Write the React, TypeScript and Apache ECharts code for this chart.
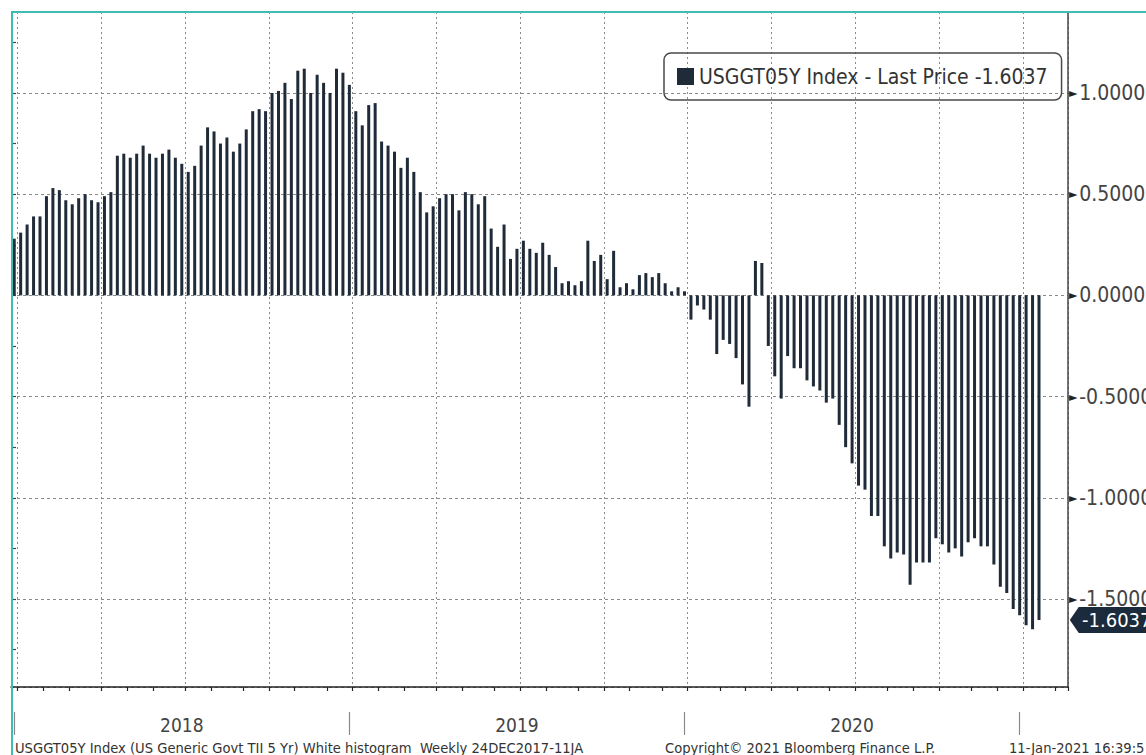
import React, { useEffect, useRef } from "react";
import * as echarts from "echarts";

// ---- data ----
const START_YEAR = 2017;
const START_MONTH = 11; // December (0-based)
const START_DAY = 29; // first weekly bar: Friday 29 Dec 2017
const WEEK_COUNT = 164; // axis runs a few weeks past the last bar

const CATEGORIES: string[] = Array.from({ length: WEEK_COUNT }, (_, i) =>
  new Date(Date.UTC(START_YEAR, START_MONTH, START_DAY + 7 * i)).toISOString().slice(0, 10)
);

const VALUES_2018: number[] = [
  0.28, 0.31, 0.35, 0.39, 0.39, 0.49, 0.53, 0.52, 0.47, 0.45, 0.48, 0.5, 0.47, 0.46, 0.49, 0.51,
  0.69, 0.7, 0.68, 0.7, 0.74, 0.7, 0.68, 0.7, 0.72, 0.68, 0.65, 0.61, 0.64, 0.74, 0.83, 0.81,
  0.75, 0.78, 0.71, 0.75, 0.82, 0.91, 0.92, 0.91, 1.0, 1.01, 1.05, 0.97, 1.11, 1.12, 1.0, 1.09,
  1.05, 1.0, 1.12, 1.1, 1.04,
];
const VALUES_2019: number[] = [
  0.91, 0.84, 0.94, 0.95, 0.76, 0.74, 0.71, 0.63, 0.68, 0.61, 0.51, 0.41, 0.44, 0.48, 0.5, 0.5,
  0.42, 0.51, 0.5, 0.45, 0.49, 0.33, 0.24, 0.35, 0.18, 0.23, 0.27, 0.23, 0.21, 0.26, 0.2, 0.14,
  0.06, 0.07, 0.05, 0.07, 0.27, 0.17, 0.2, 0.08, 0.22, 0.04, 0.06, 0.03, 0.1, 0.11, 0.09, 0.11,
  0.06, 0.02, 0.04, 0.02,
];
const VALUES_2020: number[] = [
  -0.12, -0.05, -0.07, -0.12, -0.29, -0.22, -0.24, -0.31, -0.44, -0.55, 0.17, 0.16, -0.25, -0.4,
  -0.51, -0.3, -0.36, -0.36, -0.42, -0.45, -0.47, -0.53, -0.51, -0.64, -0.75, -0.83, -0.94, -0.96,
  -1.09, -1.09, -1.24, -1.3, -1.27, -1.28, -1.43, -1.32, -1.32, -1.32, -1.2, -1.23, -1.27, -1.25,
  -1.29, -1.22, -1.2, -1.24, -1.24, -1.33, -1.44, -1.47, -1.55, -1.58, -1.63, -1.65,
];
const LAST_PRICE = -1.6037;
const VALUES: number[] = [...VALUES_2018, ...VALUES_2019, ...VALUES_2020, LAST_PRICE];

const Y_MIN = -1.935;
const Y_MAX = 1.4;
const MINOR_MIN = -1.75;
const MINOR_MAX = 1.25;

const SERIES_NAME = `USGGT05Y Index - Last Price ${LAST_PRICE.toFixed(4)}`;
const FOOTER_LEFT = "USGGT05Y Index (US Generic Govt TII 5 Yr) White histogram  Weekly 24DEC2017-11JA";
const FOOTER_MID = "Copyright\u00A9 2021 Bloomberg Finance L.P.";
const FOOTER_RIGHT = "11-Jan-2021 16:39:5";

// ---- styling ----
const W = 1146;
const H = 755;
const GRID_LEFT = 11;
const GRID_RIGHT = 78;
const GRID_TOP = 12;
const GRID_BOTTOM = 68;
const FONT = '"DejaVu Sans Condensed", "DejaVu Sans", sans-serif';
const BAR_COLOR = "#1f2b38";
const GRID_COLOR = "#8a8a8a";
const TEAL = "#3dbdb4";

const parts = (v: string) => {
  const [y, m, d] = v.split("-").map(Number);
  return { y, m, d };
};

export default function App() {
  const ref = useRef<HTMLDivElement>(null);

  useEffect(() => {
    if (!ref.current) return;
    const chart = echarts.init(ref.current, undefined, { renderer: "svg" });
    const plotH = H - GRID_TOP - GRID_BOTTOM;
    const k = plotH / (Y_MAX - Y_MIN);
    const minorTop = GRID_TOP + (Y_MAX - MINOR_MAX) * k;
    const minorBottom = GRID_BOTTOM + (MINOR_MIN - Y_MIN) * k;

    chart.setOption({
      animation: false,
      backgroundColor: "#fff",
      textStyle: { fontFamily: FONT },
      legend: {
        data: [SERIES_NAME],
        left: 664,
        top: 53,
        icon: "rect",
        itemWidth: 17,
        itemHeight: 17,
        selectedMode: false,
        backgroundColor: "transparent",
        borderColor: "#4a4a4a",
        borderWidth: 1.5,
        borderRadius: 7,
        padding: [13, 14, 13, 13],
        textStyle: { fontSize: 21, color: "#333", fontFamily: FONT },
      },
      grid: [
        {
          left: GRID_LEFT,
          right: GRID_RIGHT,
          top: GRID_TOP,
          bottom: GRID_BOTTOM,
          containLabel: false,
          outerBoundsMode: "none",
        },
        {
          left: GRID_LEFT,
          right: GRID_RIGHT,
          top: minorTop,
          bottom: minorBottom,
          containLabel: false,
          outerBoundsMode: "none",
        },
      ],
      xAxis: [
        {
          type: "category",
          data: CATEGORIES,
          boundaryGap: true,
          axisLine: { onZero: false, lineStyle: { color: "#222", width: 1.5 } },
          axisTick: {
            show: true,
            interval: (_i: number, v: string) => parts(v).d <= 7,
            length: 4,
            lineStyle: { color: "#222", width: 1.2 },
          },
          splitLine: {
            show: true,
            interval: (_i: number, v: string) => {
              const p = parts(v);
              return p.d <= 7 && (p.m - 1) % 3 === 0;
            },
            lineStyle: { color: GRID_COLOR, type: [2, 3], width: 1 },
          },
          axisLabel: {
            interval: (_i: number, v: string) => {
              const p = parts(v);
              return (p.m === 6 && p.d >= 26) || (p.m === 7 && p.d <= 2);
            },
            formatter: (v: string) => v.slice(0, 4),
            margin: 28,
            fontSize: 19,
            color: "#444",
            fontFamily: FONT,
          },
        },
        {
          type: "category",
          data: CATEGORIES,
          boundaryGap: true,
          position: "bottom",
          offset: 25,
          axisLine: { show: false, onZero: false },
          axisLabel: { show: false },
          splitLine: { show: false },
          axisTick: {
            show: true,
            alignWithLabel: true,
            interval: (_i: number, v: string) => {
              const p = parts(v);
              return p.m === 12 && p.d >= 25;
            },
            length: 23,
            lineStyle: { color: "#8a8a8a", width: 1.2 },
          },
        },
        { gridIndex: 1, type: "value", show: false, min: 0, max: 1 },
      ],
      yAxis: [
        {
          type: "value",
          position: "right",
          min: Y_MIN,
          max: Y_MAX,
          splitNumber: 6,
          axisLine: { show: true, lineStyle: { color: "#444", width: 1.5 } },
          axisTick: { show: false },
          axisLabel: { show: false },
          splitLine: { show: true, lineStyle: { color: GRID_COLOR, type: [3, 3], width: 1 } },
        },
        {
          gridIndex: 1,
          type: "value",
          position: "right",
          min: MINOR_MIN,
          max: MINOR_MAX,
          interval: 0.25,
          axisLine: { show: false },
          splitLine: { show: false },
          axisTick: { show: true, length: 5, lineStyle: { color: "#444", width: 1.2 } },
          axisLabel: {
            show: true,
            margin: 1,
            fontSize: 21,
            color: "#444",
            fontFamily: FONT,
            formatter: (v: number) =>
              Math.abs(v * 2 - Math.round(v * 2)) < 1e-6
                ? `{a|\u25BA}{b|${(Math.abs(v) < 1e-9 ? 0 : v).toFixed(4)}}`
                : "",
            rich: {
              a: { fontSize: 12, color: "#222", fontFamily: FONT, padding: [0, 2, 0, 0] },
              b: { fontSize: 21, color: "#444", fontFamily: FONT },
            },
          },
        },
      ],
      series: [
        {
          type: "bar",
          name: SERIES_NAME,
          data: VALUES,
          barWidth: 3,
          xAxisIndex: 0,
          yAxisIndex: 0,
          itemStyle: { color: BAR_COLOR },
          markPoint: {
            silent: true,
            symbol: "path://M0,12 L9,0 L84,0 L84,24 L9,24 Z",
            symbolSize: [84, 26],
            symbolKeepAspect: false,
            symbolOffset: [47, 0],
            itemStyle: { color: "#1b2b3b" },
            label: {
              show: true,
              formatter: LAST_PRICE.toFixed(4),
              color: "#fff",
              fontSize: 20,
              fontFamily: FONT,
              offset: [5, 0],
            },
            data: [{ coord: [CATEGORIES[WEEK_COUNT - 1], LAST_PRICE] }],
          },
        },
      ],
      graphic: [
        {
          type: "rect",
          silent: true,
          z: 100,
          shape: { x: 12, y: 12, width: 1300, height: 900 },
          style: { fill: "none", stroke: TEAL, lineWidth: 2 },
        },
        {
          type: "text",
          left: 15,
          top: 740,
          style: { text: FOOTER_LEFT, font: `14.6px ${FONT}`, fill: "#333" },
        },
        {
          type: "text",
          left: 665,
          top: 740,
          style: { text: FOOTER_MID, font: `14.6px ${FONT}`, fill: "#333" },
        },
        {
          type: "text",
          left: 1009,
          top: 740,
          style: { text: FOOTER_RIGHT, font: `14.6px ${FONT}`, fill: "#333" },
        },
      ],
    });
    return () => chart.dispose();
  }, []);

  return (
    <div
      ref={ref}
      style={{ position: "fixed", left: 0, top: 0, width: W, height: H, background: "#fff" }}
    />
  );
}
